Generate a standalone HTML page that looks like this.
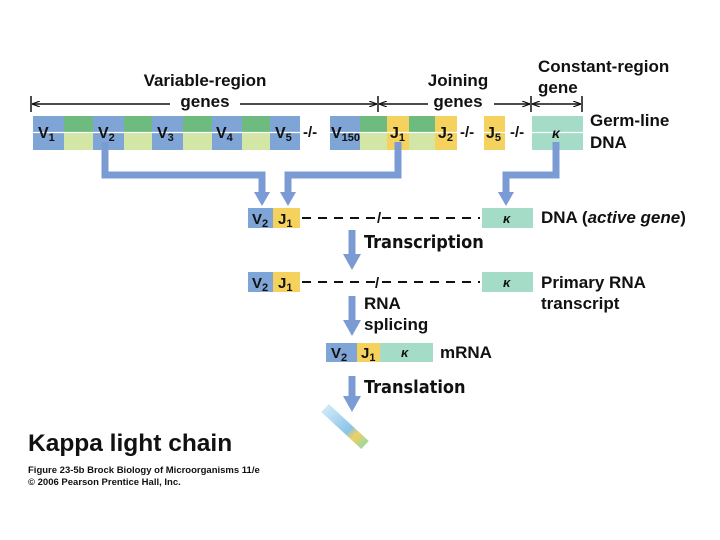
<!DOCTYPE html>
<html><head><style>
body{margin:0;background:#fff}
svg{display:block}
text{font-family:"Liberation Sans",sans-serif;font-weight:bold;fill:#111}
</style></head><body>
<svg width="720" height="540" viewBox="0 0 720 540" xmlns="http://www.w3.org/2000/svg">
<defs>
<marker id="ae" markerUnits="userSpaceOnUse" markerWidth="8" markerHeight="6" refX="8" refY="3" orient="auto"><path d="M0,0 L8,3 L0,6" fill="none" stroke="#111" stroke-width="1.2"/></marker>
<marker id="as" markerUnits="userSpaceOnUse" markerWidth="8" markerHeight="6" refX="0" refY="3" orient="auto"><path d="M8,0 L0,3 L8,6" fill="none" stroke="#111" stroke-width="1.2"/></marker>
<linearGradient id="rod" x1="0" y1="0" x2="1" y2="1"><stop offset="0" stop-color="#cde9f7"/><stop offset="0.6" stop-color="#8cc4e8"/><stop offset="0.75" stop-color="#f0d060"/><stop offset="1" stop-color="#9fd8a0"/></linearGradient>
</defs>
<text x="205" y="86" font-size="17" text-anchor="middle">Variable-region</text>
<text x="205" y="107" font-size="17" text-anchor="middle">genes</text>
<text x="458" y="86" font-size="17" text-anchor="middle">Joining</text>
<text x="458" y="107" font-size="17" text-anchor="middle">genes</text>
<text x="538" y="72" font-size="17">Constant-region</text>
<text x="538" y="93" font-size="17">gene</text>
<text x="590" y="126" font-size="17">Germ-line</text>
<text x="590" y="148" font-size="17">DNA</text>
<g stroke="#111" stroke-width="1.5">
<line x1="31" y1="96" x2="31" y2="112"/><line x1="378" y1="96" x2="378" y2="112"/><line x1="531" y1="96" x2="531" y2="112"/><line x1="582" y1="96" x2="582" y2="112"/>
<line x1="32" y1="104" x2="170" y2="104" marker-start="url(#as)"/><line x1="240" y1="104" x2="377" y2="104" marker-end="url(#ae)"/>
<line x1="379" y1="104" x2="428" y2="104" marker-start="url(#as)"/><line x1="494" y1="104" x2="530" y2="104" marker-end="url(#ae)"/>
<line x1="532" y1="104" x2="581" y2="104" marker-start="url(#as)" marker-end="url(#ae)"/>
</g>
<g>
<rect x="33" y="116" width="31" height="34" fill="#7fa5d6"/>
<rect x="64" y="116" width="29" height="16" fill="#6dbb7f"/><rect x="64" y="133" width="29" height="17" fill="#d4e6a5"/>
<rect x="93" y="116" width="31" height="34" fill="#7fa5d6"/>
<rect x="124" y="116" width="28" height="16" fill="#6dbb7f"/><rect x="124" y="133" width="28" height="17" fill="#d4e6a5"/>
<rect x="152" y="116" width="31" height="34" fill="#7fa5d6"/>
<rect x="183" y="116" width="29" height="16" fill="#6dbb7f"/><rect x="183" y="133" width="29" height="17" fill="#d4e6a5"/>
<rect x="212" y="116" width="30" height="34" fill="#7fa5d6"/>
<rect x="242" y="116" width="28" height="16" fill="#6dbb7f"/><rect x="242" y="133" width="28" height="17" fill="#d4e6a5"/>
<rect x="270" y="116" width="30" height="34" fill="#7fa5d6"/>
<rect x="330" y="116" width="30" height="34" fill="#7fa5d6"/>
<rect x="360" y="116" width="27" height="16" fill="#6dbb7f"/><rect x="360" y="133" width="27" height="17" fill="#d4e6a5"/>
<rect x="387" y="116" width="22" height="34" fill="#f5d25e"/>
<rect x="409" y="116" width="26" height="16" fill="#6dbb7f"/><rect x="409" y="133" width="26" height="17" fill="#d4e6a5"/>
<rect x="435" y="116" width="22" height="34" fill="#f5d25e"/>
<rect x="484" y="116" width="21" height="34" fill="#f5d25e"/>
<rect x="532" y="116" width="51" height="34" fill="#a5dcc8"/>
<line x1="33" y1="132.5" x2="583" y2="132.5" stroke="#fff" stroke-width="1.2"/>
</g>
<g font-size="16">
<text x="38" y="138">V<tspan font-size="11" dy="3">1</tspan></text>
<text x="98" y="138">V<tspan font-size="11" dy="3">2</tspan></text>
<text x="157" y="138">V<tspan font-size="11" dy="3">3</tspan></text>
<text x="216" y="138">V<tspan font-size="11" dy="3">4</tspan></text>
<text x="275" y="138">V<tspan font-size="11" dy="3">5</tspan></text>
<text x="303" y="137" font-size="15">-/-</text>
<text x="331" y="138">V<tspan font-size="11" dy="3">150</tspan></text>
<text x="390" y="138">J<tspan font-size="11" dy="3">1</tspan></text>
<text x="438" y="138">J<tspan font-size="11" dy="3">2</tspan></text>
<text x="460" y="137" font-size="15">-/-</text>
<text x="486" y="138">J<tspan font-size="11" dy="3">5</tspan></text>
<text x="510" y="137" font-size="15">-/-</text>
<text x="552" y="138" font-size="14" font-style="italic">κ</text>
</g>
<g fill="none" stroke="#7b9bd4" stroke-width="7">
<polyline points="105,142 105,175 262,175 262,194"/>
<polyline points="398,142 398,175 288,175 288,194"/>
<polyline points="556,142 556,175 506,175 506,194"/>
<line x1="352" y1="230" x2="352" y2="256"/>
<line x1="352" y1="296" x2="352" y2="322"/>
<line x1="352" y1="376" x2="352" y2="398"/>
</g>
<g fill="#7b9bd4">
<polygon points="254,192 270,192 262,206"/>
<polygon points="280,192 296,192 288,206"/>
<polygon points="498,192 514,192 506,206"/>
<polygon points="343,254 361,254 352,270"/>
<polygon points="343,320 361,320 352,336"/>
<polygon points="343,396 361,396 352,412"/>
</g>
<rect x="248" y="208" width="25" height="20" fill="#7fa5d6"/><rect x="273" y="208" width="27" height="20" fill="#f5d25e"/>
<rect x="482" y="208" width="51" height="20" fill="#a5dcc8"/>
<line x1="302" y1="218" x2="480" y2="218" stroke="#111" stroke-width="2" stroke-dasharray="9,7"/>
<text x="377" y="223" font-size="15">/</text>
<text x="252" y="224" font-size="15">V<tspan font-size="11" dy="3">2</tspan></text>
<text x="278" y="224" font-size="15">J<tspan font-size="11" dy="3">1</tspan></text>
<text x="503" y="223" font-size="13" font-style="italic">κ</text>
<text x="541" y="223" font-size="17">DNA (<tspan font-style="italic">active gene</tspan>)</text>
<text x="364" y="248" font-size="18" style="font-family:'DejaVu Sans Condensed','DejaVu Sans',sans-serif">Transcription</text>
<rect x="248" y="272" width="25" height="20" fill="#7fa5d6"/><rect x="273" y="272" width="27" height="20" fill="#f5d25e"/>
<rect x="482" y="272" width="51" height="20" fill="#a5dcc8"/>
<line x1="302" y1="282" x2="480" y2="282" stroke="#111" stroke-width="2" stroke-dasharray="9,7"/>
<text x="375" y="288" font-size="15">/</text>
<text x="252" y="288" font-size="15">V<tspan font-size="11" dy="3">2</tspan></text>
<text x="278" y="288" font-size="15">J<tspan font-size="11" dy="3">1</tspan></text>
<text x="503" y="287" font-size="13" font-style="italic">κ</text>
<text x="541" y="288" font-size="17">Primary RNA</text>
<text x="541" y="309" font-size="17">transcript</text>
<text x="364" y="309" font-size="17">RNA</text>
<text x="364" y="330" font-size="17">splicing</text>
<rect x="326" y="343" width="31" height="19" fill="#7fa5d6"/><rect x="357" y="343" width="23" height="19" fill="#f5d25e"/><rect x="380" y="343" width="53" height="19" fill="#a5dcc8"/>
<text x="331" y="358" font-size="15">V<tspan font-size="11" dy="3">2</tspan></text>
<text x="361" y="358" font-size="15">J<tspan font-size="11" dy="3">1</tspan></text>
<text x="401" y="357" font-size="13" font-style="italic">κ</text>
<text x="440" y="358" font-size="17">mRNA</text>
<text x="364" y="393" font-size="18" style="font-family:'DejaVu Sans Condensed','DejaVu Sans',sans-serif">Translation</text>
<line x1="325" y1="408" x2="365" y2="445" stroke="url(#rod)" stroke-width="11" stroke-linecap="butt"/>
<text x="28" y="451" font-size="24.5">Kappa light chain</text>
<text x="28" y="473" font-size="9.5">Figure 23-5b  Brock Biology of Microorganisms 11/e</text>
<text x="28" y="485" font-size="9.5">© 2006 Pearson Prentice Hall, Inc.</text>
</svg>
</body></html>
